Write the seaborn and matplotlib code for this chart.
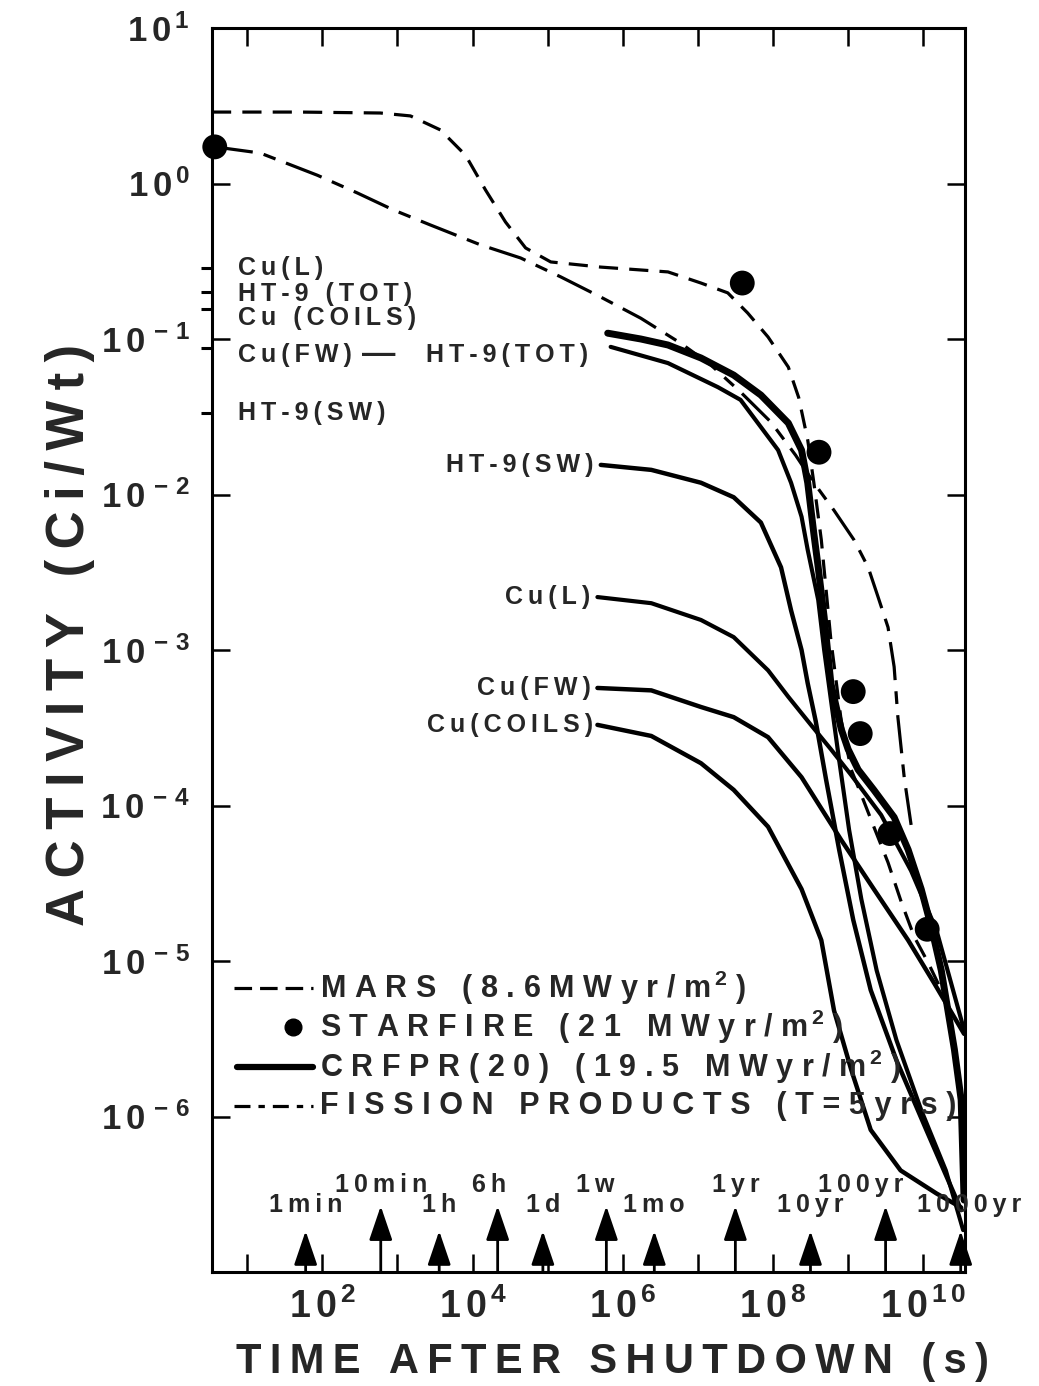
import matplotlib
matplotlib.use("Agg")
import matplotlib.pyplot as plt
import seaborn as sns
import pandas as pd

W, H = 1039, 1386

# ---- decay curves: time after shutdown (s) vs activity (Ci/Wt) ----
mars_t = [3.4, 51, 593, 1490, 3740, 8070, 1.49e4, 2.75e4, 5.09e4, 1.1e5, 5.1e5, 4.0e6,
          1.1e7, 2.5e7, 4.6e7, 8.6e7, 1.6e8, 2.2e8, 2.9e8, 3.5e8, 4.4e8, 5.9e8, 8.1e8,
          1.1e9, 1.5e9, 2.2e9, 3.4e9, 5.1e9, 7.6e9, 1.17e10, 1.74e10]
mars_a = [2.88, 2.88, 2.84, 2.72, 2.21, 1.52, 0.908, 0.565, 0.385, 0.313, 0.290, 0.270,
          0.229, 0.198, 0.147, 0.103, 0.066, 0.042, 0.0224, 0.0119, 5.1e-3, 1.16e-3, 3.5e-4,
          1.7e-4, 1.17e-4, 7.3e-5, 4.3e-5, 2.4e-5, 1.43e-5, 9.7e-6, 6.5e-6]

fission_t = [3.7, 14.9, 86, 293, 885, 2750, 1.28e4, 4.36e4, 1.49e5, 5.1e5, 1.74e6, 5.9e6,
             1.49e7, 3.7e7, 9.4e7, 2.0e8, 3.5e8, 6.5e8, 1.2e9, 1.85e9, 2.5e9, 3.4e9,
             4.1e9, 4.6e9, 5.6e9, 6.9e9]
fission_a = [1.72, 1.57, 1.13, 0.869, 0.676, 0.541, 0.403, 0.332, 0.251, 0.186, 0.136, 0.094,
             0.068, 0.0456, 0.0292, 0.0179, 0.0119, 7.9e-3, 5.1e-3, 3.4e-3, 2.2e-3, 1.4e-3,
             7.8e-4, 3.7e-4, 1.5e-4, 7.5e-5]

crfpr_t = [6.3e5, 1.74e6, 4.0e6, 1.1e7, 3.0e7, 6.9e7, 1.6e8, 2.4e8, 2.9e8, 3.5e8, 4.0e8,
           4.8e8, 5.9e8, 8.1e8, 1.0e9, 1.36e9, 2.2e9, 4.1e9, 6.3e9, 9.4e9, 1.28e10,
           1.74e10, 2.6e10, 3.2e10, 3.5e10]
crfpr_a = [0.109, 0.100, 0.0915, 0.0755, 0.0586, 0.0436, 0.0288, 0.0193, 0.0119, 5.6e-3,
           3.4e-3, 1.63e-3, 6.1e-4, 3.1e-4, 2.3e-4, 1.7e-4, 1.26e-4, 8.4e-5, 5.2e-5, 2.9e-5,
           1.66e-5, 8.7e-6, 2.7e-6, 1.28e-6, 2.9e-7]

ht9tot_t = [6.9e5, 4.0e6, 1.85e7, 3.7e7, 1.17e8, 1.74e8, 2.4e8, 2.9e8, 4.0e8, 4.8e8, 5.9e8,
            7.6e8, 1.03e9, 1.5e9, 2.4e9, 4.4e9, 9.4e9, 2.0e10, 3.4e10]
ht9tot_a = [0.089, 0.070, 0.049, 0.0406, 0.0193, 0.0119, 7.2e-3, 4.4e-3, 2.1e-3, 1.0e-3,
            4.8e-4, 1.96e-4, 7.0e-5, 2.5e-5, 8.7e-6, 3.1e-6, 1.1e-6, 4.5e-7, 1.86e-7]

ht9sw_t = [5.1e5, 2.4e6, 1.1e7, 3.0e7, 6.9e7, 1.28e8, 1.74e8, 2.4e8, 2.9e8, 3.7e8, 5.1e8,
           7.6e8, 1.17e9, 2.0e9, 4.4e9, 1.1e10, 3.2e10]
ht9sw_a = [0.0155, 0.0144, 0.0119, 9.6e-3, 6.6e-3, 3.4e-3, 1.8e-3, 1.0e-3, 6.1e-4, 3.5e-4,
           1.46e-4, 5.2e-5, 1.84e-5, 6.5e-6, 2.3e-6, 8.2e-7, 2.5e-7]

cul_t = [4.6e5, 2.4e6, 1.1e7, 3.0e7, 8.6e7, 1.6e8, 3.2e8, 5.9e8, 1.1e9, 2.75e9, 6.9e9,
         1.5e10, 3.5e10]
cul_a = [2.19e-3, 2.0e-3, 1.56e-3, 1.21e-3, 7.4e-4, 5.0e-4, 3.3e-4, 2.3e-4, 1.57e-4,
         8.7e-5, 3.8e-5, 1.58e-5, 3.6e-6]

cufw_t = [4.6e5, 2.4e6, 1.1e7, 3.0e7, 8.6e7, 2.4e8, 8.1e8, 2.2e9, 6.3e9, 1.4e10, 3.5e10]
cufw_a = [5.7e-4, 5.5e-4, 4.3e-4, 3.7e-4, 2.75e-4, 1.52e-4, 6.0e-5, 2.9e-5, 1.36e-5,
          7.2e-6, 3.4e-6]

cucoils_t = [4.6e5, 2.4e6, 1.1e7, 3.0e7, 8.6e7, 2.4e8, 4.4e8, 6.5e8, 1.1e9, 2.0e9, 5.0e9,
             1.5e10, 3.2e10]
cucoils_a = [3.3e-4, 2.8e-4, 1.87e-4, 1.26e-4, 7.3e-5, 2.9e-5, 1.36e-5, 4.8e-6, 2.0e-6,
             8.2e-7, 4.5e-7, 3.2e-7, 2.6e-7]

# STARFIRE points
starfire_t = [3.7, 3.9e7, 4.1e8, 1.17e9, 1.45e9, 3.6e9, 1.13e10]
starfire_a = [1.72, 0.229, 0.0187, 5.4e-4, 2.9e-4, 6.6e-5, 1.6e-5]

# values at shutdown marked on the left axis
shutdown_names = ["Cu(L)", "HT-9 (TOT)", "Cu (COILS)", "Cu(FW)", "HT-9(SW)"]
shutdown_vals = [0.286, 0.200, 0.155, 0.0875, 0.0334]
shutdown_label_dy = [0, -1, -6, -5, 0]

# labels at the start of the CRFPR component curves
start_names = ["HT-9(TOT)", "HT-9(SW)", "Cu(L)", "Cu(FW)", "Cu(COILS)"]
start_label_off = [(-16, -6), (-5, 0), (-5, 0), (-5, 0), (-3, 0)]

# reference times on the time axis
mark_names = ["1min", "10min", "1h", "6h", "1d", "1w", "1mo", "1yr", "10yr", "100yr", "1000yr"]
mark_times = [60, 600, 3600, 21600, 86400, 604800, 2.63e6, 3.156e7, 3.156e8, 3.156e9, 3.156e10]
mark_tall = [False, True, False, True, False, True, False, True, False, True, False]

xtick_vals = [1e1, 1e2, 1e3, 1e4, 1e5, 1e6, 1e7, 1e8, 1e9, 1e10]
xtick_text = ["", r"$1\,0^{\,2}$", "", r"$1\,0^{\,4}$", "", r"$1\,0^{\,6}$", "",
              r"$1\,0^{\,8}$", "", r"$1\,0^{\,1\,0}$"]
ytick_vals = [1e-7, 1e-6, 1e-5, 1e-4, 1e-3, 1e-2, 1e-1, 1e0, 1e1]
ytick_text = ["", r"$1\,0^{\,-\,6}$", r"$1\,0^{\,-\,5}$", r"$1\,0^{\,-\,4}$",
              r"$1\,0^{\,-\,3}$", r"$1\,0^{\,-\,2}$", r"$1\,0^{\,-\,1}$",
              r"$1\,0^{\,0}$", r"$1\,0^{\,1}$"]

legend_text = ["MARS (8.6MWyr/m", "STARFIRE (21 MWyr/m",
               "CRFPR(20) (19.5 MWyr/m", "FISSION PRODUCTS (T=5yrs)"]
legend_sq = [True, True, True, False]

HAIR = "\u200a"
THIN = "\u2009"


def track(s, sep=HAIR):
    return sep.join(s)


sns.set_theme(style="white")
FAM = ["Liberation Sans", "DejaVu Sans"]
plt.rcParams["font.family"] = FAM
plt.rcParams["font.weight"] = "bold"
plt.rcParams["mathtext.fontset"] = "custom"
plt.rcParams["mathtext.rm"] = "Liberation Sans:bold"
plt.rcParams["mathtext.bf"] = "Liberation Sans:bold"
plt.rcParams["mathtext.it"] = "Liberation Sans:bold"
plt.rcParams["mathtext.default"] = "bf"

fig = plt.figure(figsize=(W / 100, H / 100), dpi=100)
ax = fig.add_axes([212 / W, 1 - 1272 / H, 753 / W, 1244 / H])
ax.set_xscale("log")
ax.set_yscale("log")
ax.set_xlim(3.4, 3.6e10)
ax.set_ylim(1e-7, 10)

MARS_DASH = (0, (6, 3.5))
FP_DASH = (0, (12, 3.5, 4, 3.5))


def curve(t, a, lw, ls="-"):
    df = pd.DataFrame({"t": t, "a": a})
    sns.lineplot(data=df, x="t", y="a", ax=ax, color="black", linewidth=lw,
                 linestyle=ls, sort=False, estimator=None, legend=False)


curve(mars_t, mars_a, 2.3, MARS_DASH)
curve(fission_t, fission_a, 2.3, FP_DASH)
curve(crfpr_t, crfpr_a, 5.0)
curve(ht9tot_t, ht9tot_a, 3.0)
curve(ht9sw_t, ht9sw_a, 3.2)
curve(cul_t, cul_a, 3.0)
curve(cufw_t, cufw_a, 3.2)
curve(cucoils_t, cucoils_a, 3.2)

sns.scatterplot(x=starfire_t, y=starfire_a, ax=ax, color="black", s=320,
                edgecolor="none", zorder=5, legend=False, clip_on=False)

# frame and ticks
for sp in ax.spines.values():
    sp.set_linewidth(2.2)
    sp.set_color("black")
ax.set_xticks(xtick_vals)
ax.set_xticklabels(xtick_text)
ax.set_yticks(ytick_vals)
ax.set_yticklabels(ytick_text)
ax.minorticks_off()
ax.tick_params(which="major", direction="in", length=13, width=1.8, top=True,
               right=True, bottom=True, left=True, color="black")
ax.tick_params(axis="x", labelsize=27, pad=12)
ax.tick_params(axis="y", labelsize=25, pad=16)

ax.set_xlabel("")
ax.set_ylabel("")
fig.text(613 / W, 1 - 1362 / H, track("TIME AFTER SHUTDOWN (s)", THIN), ha="center",
         va="center", fontsize=30, fontweight="bold")
fig.text(70 / W, 1 - 635 / H, track("ACTIVITY (Ci/Wt)", THIN), ha="center", va="center",
         rotation=90, fontsize=38, fontweight="bold")

# shutdown values on the left axis
ax.plot([ax.get_xlim()[0]] * len(shutdown_vals), shutdown_vals, linestyle="none",
        marker=0, markersize=8, markeredgewidth=2.2, color="black", clip_on=False)
for name, v, dy in zip(shutdown_names, shutdown_vals, shutdown_label_dy):
    ax.annotate(track(name, THIN), xy=(ax.get_xlim()[0], v), xytext=(19, dy),
                textcoords="offset points", ha="left", va="center", fontsize=18,
                fontweight="bold")
ax.annotate("—", xy=(ax.get_xlim()[0], shutdown_vals[3]), xytext=(120, -5),
            textcoords="offset points", ha="center", va="center", fontsize=24,
            fontweight="bold")

# curve labels at their starting points
starts = [(ht9tot_t[0], ht9tot_a[0]), (ht9sw_t[0], ht9sw_a[0]), (cul_t[0], cul_a[0]),
          (cufw_t[0], cufw_a[0]), (cucoils_t[0], cucoils_a[0])]
for name, (t0, a0), off in zip(start_names, starts, start_label_off):
    ax.annotate(track(name, THIN), xy=(t0, a0), xytext=off, textcoords="offset points",
                ha="right", va="center", fontsize=18, fontweight="bold")

# reference time arrows
for name, tm, tall in zip(mark_names, mark_times, mark_tall):
    top = 0.053 if tall else 0.033
    ax.annotate("", xy=(tm, top), xycoords=("data", "axes fraction"),
                xytext=(tm, 0.0), textcoords=("data", "axes fraction"),
                arrowprops=dict(arrowstyle="-|>,head_length=1.0,head_width=0.34",
                                mutation_scale=21, lw=2.0, color="black",
                                shrinkA=0, shrinkB=0))
label_dx = {"6h": -6, "1w": -8, "100yr": -18, "1000yr": 6}
for name, tm, tall in zip(mark_names, mark_times, mark_tall):
    ypix = 1185 if tall else 1205
    ax.annotate(track(name, THIN), xy=(tm, (1272 - ypix) / 1244),
                xycoords=("data", "axes fraction"),
                xytext=(label_dx.get(name, 0), 0), textcoords="offset points",
                ha="center", va="center", fontsize=18, fontweight="bold",
                annotation_clip=False)


# legend block
def fx(px):
    return px / W


def fy(py):
    return 1 - py / H


rows = [988, 1027, 1067, 1106]
fig.add_artist(plt.Line2D([fx(234), fx(313)], [fy(rows[0])] * 2, color="black",
                          lw=2.3, linestyle=(0, (5.5, 2.5))))
fig.add_artist(plt.Line2D([fx(293)], [fy(rows[1])], color="black", marker="o",
                          markersize=12, linestyle="none"))
fig.add_artist(plt.Line2D([fx(237), fx(313)], [fy(rows[2])] * 2, color="black", lw=4.5))
fig.add_artist(plt.Line2D([fx(234), fx(313)], [fy(rows[3])] * 2, color="black",
                          lw=2.3, linestyle=(0, (5, 2.5, 2, 2.5))))
LEG_SEP = THIN + HAIR
for txt, r, sq in zip(legend_text, rows, legend_sq):
    s = track(txt, LEG_SEP)
    if sq:
        s = s + r"$^{\,2}$" + LEG_SEP + ")"
    fig.text(fx(320), fy(r), s, ha="left", va="center", fontsize=22, fontweight="bold")

fig.savefig("out.png", dpi=100, facecolor="white")
